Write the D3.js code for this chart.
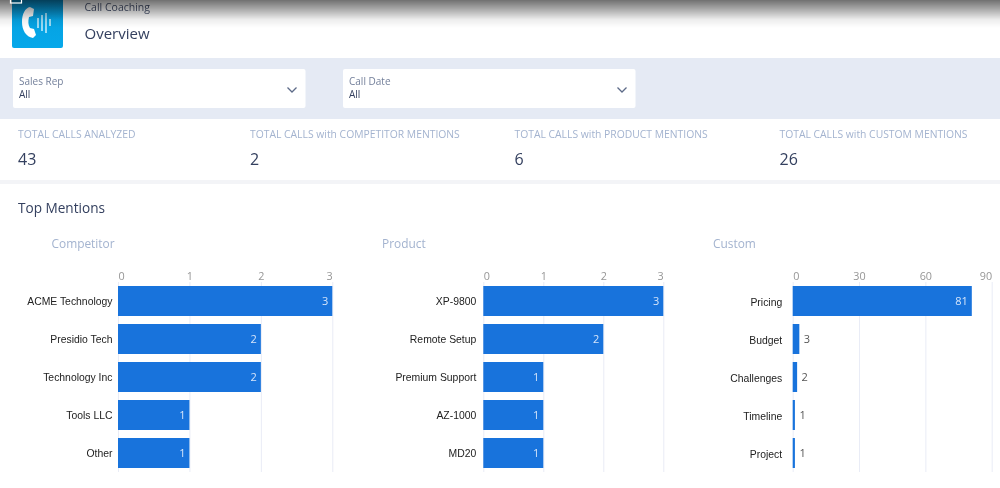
<!DOCTYPE html>
<html>
<head>
<meta charset="utf-8">
<script src="https://cdn.jsdelivr.net/npm/d3@7"></script>
<style>
html, body { margin: 0; padding: 0; background: #fff; overflow: hidden; }
svg { display: block; filter: blur(0.45px); }
text { font-family: "Open Sans", sans-serif; }
.chart-label text { font-family: "Liberation Sans", Arial, sans-serif; font-size: 10.4px; fill: #222; }
.chart-axis text { font-family: "Open Sans", sans-serif; font-size: 10.8px; fill: #969696; }
</style>
</head>
<body>
<svg id="page" width="1000" height="488"></svg>
<script>
const statLabels = ["TOTAL CALLS ANALYZED", "TOTAL CALLS with COMPETITOR MENTIONS", "TOTAL CALLS with PRODUCT MENTIONS", "TOTAL CALLS with CUSTOM MENTIONS"];
const statValues = [43, 2, 6, 26];
const filterLabels = ["Sales Rep", "Call Date"];
const filterValues = ["All", "All"];

const competitorNames = ["ACME Technology", "Presidio Tech", "Technology Inc", "Tools LLC", "Other"];
const competitorCounts = [3, 2, 2, 1, 1];
const competitorTicks = [0, 1, 2, 3];

const productNames = ["XP-9800", "Remote Setup", "Premium Support", "AZ-1000", "MD20"];
const productCounts = [3, 2, 1, 1, 1];
const productTicks = [0, 1, 2, 3];

const customNames = ["Pricing", "Budget", "Challenges", "Timeline", "Project"];
const customCounts = [81, 3, 2, 1, 1];
const customTicks = [0, 30, 60, 90];

const svg = d3.select("#page");
const navy = "#34405f";
const paleBlue = "#a3b3cf";

// header
const defs = svg.append("defs");
const shade = defs.append("linearGradient").attr("id", "shade").attr("x2", 0).attr("y2", 1);
shade.append("stop").attr("offset", 0).attr("stop-color", "#000").attr("stop-opacity", 0.56);
shade.append("stop").attr("offset", 0.35).attr("stop-color", "#000").attr("stop-opacity", 0.32);
shade.append("stop").attr("offset", 0.7).attr("stop-color", "#000").attr("stop-opacity", 0.07);
shade.append("stop").attr("offset", 1).attr("stop-color", "#000").attr("stop-opacity", 0);
const tile = defs.append("linearGradient").attr("id", "tile").attr("x2", 0).attr("y2", 1);
tile.append("stop").attr("offset", 0).attr("stop-color", "#0a8cc8");
tile.append("stop").attr("offset", 0.5).attr("stop-color", "#05a3e3");
tile.append("stop").attr("offset", 1).attr("stop-color", "#06a8ea");

svg.append("rect").attr("x", 12).attr("y", -4).attr("width", 51).attr("height", 52).attr("rx", 2).attr("fill", "url(#tile)");
svg.append("path")
    .attr("d", "M30,7 L34,9 L33,16 L29,17 C28,21 28,25 30,28 L34,29 L36,35 L33,38 C26,37 22,30 22,22 C22,14 25,8 30,7 Z")
    .attr("fill", "#fff");
[[38, 18, 28], [42, 15, 31], [46, 13, 33], [50, 19, 26]].forEach(([x, y1, y2]) => {
    svg.append("line").attr("x1", x).attr("x2", x).attr("y1", y1).attr("y2", y2)
        .attr("stroke", "#cdeefb").attr("stroke-width", 1.5);
});
svg.append("text").attr("x", 84.5).attr("y", 11).attr("font-size", 10.5).attr("fill", "#4a5570").text("Call Coaching");
svg.append("text").attr("x", 84.5).attr("y", 38.5).attr("font-size", 15).attr("fill", navy).text("Overview");
svg.append("rect").attr("width", 1000).attr("height", 28).attr("fill", "url(#shade)");
svg.append("rect").attr("x", 10.5).attr("y", -4).attr("width", 11).attr("height", 7)
    .attr("fill", "none").attr("stroke", "#fff").attr("stroke-width", 1.2);

// filter band
svg.append("rect").attr("y", 58).attr("width", 1000).attr("height", 61).attr("fill", "#e5eaf4");
const filterX = d3.scalePoint().domain(filterLabels).range([13, 343]);
filterLabels.forEach((label, i) => {
    const x = filterX(label);
    const g = svg.append("g").attr("transform", `translate(${x},69)`);
    g.append("rect").attr("width", 292.5).attr("height", 39).attr("rx", 2).attr("fill", "#fff");
    g.append("text").attr("x", 6).attr("y", 15.5).attr("font-size", 10).attr("fill", "#74809b").text(label);
    g.append("text").attr("x", 6).attr("y", 29).attr("font-size", 10).attr("fill", navy).text(filterValues[i]);
    g.append("path").attr("d", "M274.5,18.5 L279,23 L283.5,18.5").attr("fill", "none")
        .attr("stroke", "#5d6a88").attr("stroke-width", 1.3);
});

// stat row
const statX = [18, 250, 514.5, 779.5];
statLabels.forEach((label, i) => {
    svg.append("text").attr("x", statX[i]).attr("y", 137.5).attr("font-size", 10.35).attr("fill", paleBlue).text(label);
    svg.append("text").attr("x", statX[i]).attr("y", 165).attr("font-size", 16).attr("fill", navy).text(statValues[i]);
});
svg.append("rect").attr("y", 180).attr("width", 1000).attr("height", 4).attr("fill", "#f3f4f7");

svg.append("text").attr("x", 18).attr("y", 213).attr("font-size", 13.6).attr("fill", navy).text("Top Mentions");

function BarPanel(names, counts, ticks, { title, title_x, x0, x1, label_gap, label_shift = 1, inside_min }) {
    const x_scale = d3.scaleLinear().domain([ticks[0], ticks[ticks.length - 1]]).range([x0, x1]);
    const y_scale = d3.scaleBand().domain(names).range([282, 472]).paddingInner(8 / 38).paddingOuter(4 / 38);
    const g = svg.append("g");

    g.append("text").attr("x", title_x).attr("y", 247.5).attr("font-size", 11.9).attr("fill", paleBlue).text(title);

    // grid lines with tick labels above
    const axis = g.append("g").attr("class", "chart-axis").attr("transform", "translate(0,282)")
        .call(d3.axisTop(x_scale).tickValues(ticks).tickSize(0).tickPadding(2).tickFormat(d3.format("d")));
    axis.select(".domain").remove();
    axis.selectAll(".tick text")
        .attr("text-anchor", (d, i) => i === 0 ? "start" : i === ticks.length - 1 ? "end" : "middle");
    axis.selectAll(".tick line").attr("y2", 190).attr("y1", 0).attr("stroke", "#e9ecf6");

    g.selectAll("rect.bar")
        .data(names)
        .join("rect")
        .attr("class", "bar")
        .attr("x", x0)
        .attr("y", d => y_scale(d))
        .attr("width", (d, i) => x_scale(counts[i]) - x0)
        .attr("height", y_scale.bandwidth())
        .attr("fill", "#1873dc");

    const labels = g.append("g").attr("class", "chart-label").attr("transform", `translate(${x0 - label_gap},${label_shift})`)
        .call(d3.axisLeft(y_scale).tickSize(0).tickPadding(0));
    labels.select(".domain").remove();

    g.selectAll("text.value")
        .data(names)
        .join("text")
        .attr("class", "value")
        .attr("x", (d, i) => counts[i] >= inside_min ? x_scale(counts[i]) - 4 : x_scale(counts[i]) + 4.5)
        .attr("y", d => y_scale(d) + y_scale.bandwidth() / 2)
        .attr("dy", "0.38em")
        .attr("text-anchor", (d, i) => counts[i] >= inside_min ? "end" : "start")
        .attr("font-size", 11)
        .attr("fill", (d, i) => counts[i] >= inside_min ? "#d6e5fa" : "#555")
        .text((d, i) => counts[i]);
}

BarPanel(competitorNames, competitorCounts, competitorTicks,
    { title: "Competitor", title_x: 51.5, x0: 118, x1: 332.3, label_gap: 5.5, inside_min: 1 });
BarPanel(productNames, productCounts, productTicks,
    { title: "Product", title_x: 382, x0: 483.3, x1: 663.3, label_gap: 7, inside_min: 1 });
BarPanel(customNames, customCounts, customTicks,
    { title: "Custom", title_x: 713, x0: 792.7, x1: 991.7, label_gap: 10.5, label_shift: 2, inside_min: 10 });
</script>
</body>
</html>
